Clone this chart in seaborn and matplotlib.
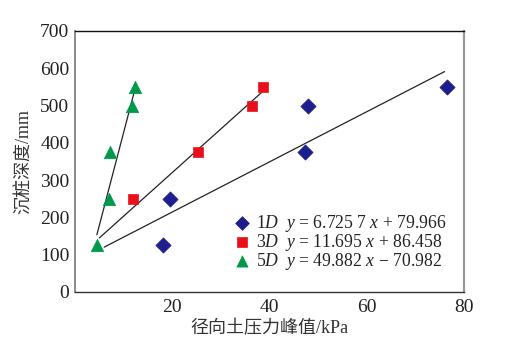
import matplotlib
matplotlib.use("Agg")
import matplotlib.pyplot as plt
import seaborn as sns
import numpy as np
import pandas as pd

# Data
x_1d = [18.0, 19.6, 47.2, 48.0, 76.5]
y_1d = [125, 250, 375, 500, 550]
x_3d = [12.0, 25.2, 36.4, 38.6]
y_3d = [250, 375, 500, 550]
x_5d = [4.5, 7.0, 7.2, 11.7, 12.4]
y_5d = [125, 250, 375, 500, 550]
slopes = [6.7257, 11.695, 49.882]
intercepts = [79.966, 86.458, -70.982]
fit_x_ranges = [(6.0, 76.0), (5.0, 38.5), (4.5, 12.4)]
series = ["1D", "3D", "5D"]
legend_labels = [
    r"$\mathit{1D}$  $\mathit{y}$ = 6.725 7 $\mathit{x}$ + 79.966",
    r"$\mathit{3D}$  $\mathit{y}$ = 11.695 $\mathit{x}$ + 86.458",
    r"$\mathit{5D}$  $\mathit{y}$ = 49.882 $\mathit{x}$ − 70.982",
]
x_ticks = [20, 40, 60, 80]
y_ticks = [0, 100, 200, 300, 400, 500, 600, 700]

sns.set_theme(style="white")
plt.rcParams['font.family'] = ['Liberation Serif', 'Noto Sans CJK SC']
plt.rcParams['mathtext.fontset'] = 'custom'
plt.rcParams['mathtext.rm'] = 'Liberation Serif'
plt.rcParams['mathtext.it'] = 'Liberation Serif:italic'

colors = ["#1e1e8c", "#e8101a", "#00984a"]
markers = ["D", "s", "^"]
msizes = [60, 55, 80]

fig = plt.figure(figsize=(5.13, 3.42), dpi=100)
ax = fig.add_axes([75/513, 1-292/342, (464-75)/513, (292-31)/342])

xs = [x_1d, x_3d, x_5d]
ys = [y_1d, y_3d, y_5d]
for i in range(3):
    df = pd.DataFrame({"x": xs[i], "y": ys[i]})
    sns.scatterplot(data=df, x="x", y="y", ax=ax, color=colors[i], marker=markers[i],
                    s=msizes[i], edgecolor=colors[i], linewidth=0.5, zorder=3,
                    label=legend_labels[i])
    x0, x1 = fit_x_ranges[i]
    lx = np.array([x0, x1])
    ldf = pd.DataFrame({"x": lx, "y": slopes[i]*lx + intercepts[i]})
    sns.lineplot(data=ldf, x="x", y="y", ax=ax, color="#222222", linewidth=0.9, zorder=2)

ax.set_xlim(0, 80)
ax.set_ylim(0, 700)
ax.set_xticks(x_ticks)
ax.set_yticks(y_ticks)
ax.tick_params(axis="x", direction="in", length=5, width=0.8, labelsize=14, colors="#444444", pad=5)
ax.tick_params(axis="y", direction="in", length=3, width=0.8, labelsize=14, colors="#777777", pad=4)
for lab in ax.get_xticklabels() + ax.get_yticklabels():
    lab.set_color("#222222")
ax.set_xlabel("径向土压力峰值/kPa", fontsize=13, color="#333333", labelpad=3)
ax.set_ylabel("沉桩深度/mm", fontsize=13, color="#333333", labelpad=5)

ax.spines["left"].set_color("#808080")
ax.spines["left"].set_linewidth(1.3)
ax.spines["bottom"].set_color("#333333")
ax.spines["bottom"].set_linewidth(1.0)
ax.spines["top"].set_color("#111111")
ax.spines["top"].set_linewidth(1.0)
ax.spines["right"].set_color("#999999")
ax.spines["right"].set_linewidth(1.6)

leg = ax.legend(loc="lower right", bbox_to_anchor=(0.985, 0.03), frameon=False,
                fontsize=12.7, handletextpad=0.25, handlelength=1.0, labelspacing=-0.12,
                borderaxespad=0.3, markerscale=0.9)
for t in leg.get_texts():
    t.set_color("#222222")

fig.savefig("out.png", dpi=100)
